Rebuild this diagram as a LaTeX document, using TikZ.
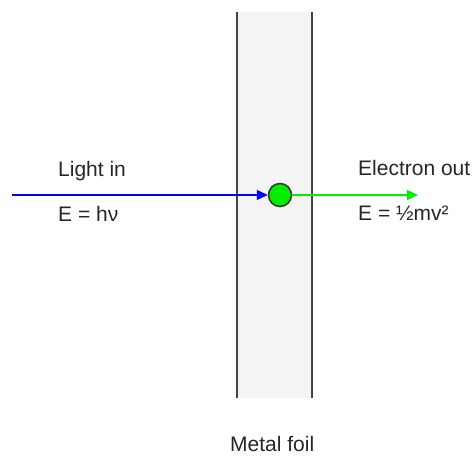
\documentclass[tikz,border=0pt]{standalone}
\usepackage{fontspec}
\setmainfont{Liberation Sans}
\usetikzlibrary{arrows.meta}
\definecolor{foilfill}{HTML}{F4F4F4}
\definecolor{foiledge}{HTML}{444444}
\definecolor{lightblue}{HTML}{0000FF}
\definecolor{elgreen}{HTML}{00EE00}
\begin{document}
\begin{tikzpicture}[x=1pt,y=-1pt,
  lbl/.style={anchor=base west,inner sep=0pt,font=\fontsize{21}{24}\selectfont,text=black!85},
  foiledgeline/.style={draw=foiledge,line width=1.8pt},
  tip/.style={-{Triangle[length=11pt,width=10pt]}},
]
\useasboundingbox (0,0) rectangle (473,455);
% foil
\fill[foilfill] (237,12) rectangle (312,398);
\coordinate (ftl) at (237,12);
\coordinate (fbl) at (237,398);
\coordinate (ftr) at (312,12);
\coordinate (fbr) at (312,398);
\draw[foiledgeline] (ftl) -- (fbl);
\draw[foiledgeline] (ftr) -- (fbr);
% electron
\node[circle,draw=black!80,line width=1.5pt,fill=elgreen,minimum size=23pt,inner sep=0pt] (e) at (280,195) {};
\coordinate (lin) at (12,195);
\coordinate (eout) at (418,195);
\draw[lightblue,line width=1.3pt,tip] (lin) -- (e.west);
\draw[elgreen,line width=1.3pt,tip] (e.east) -- (eout);
% labels
\node[lbl] (light) at (58,176) {Light in};
\node[lbl] (ehv) at (58,221) {E = hν};
\node[lbl] (eo) at (358,175) {Electron out};
\node[lbl] (ekin) at (358,220) {E = ½mv²};
\node[lbl] (foil) at (230,451) {Metal foil};
\end{tikzpicture}
\end{document}
